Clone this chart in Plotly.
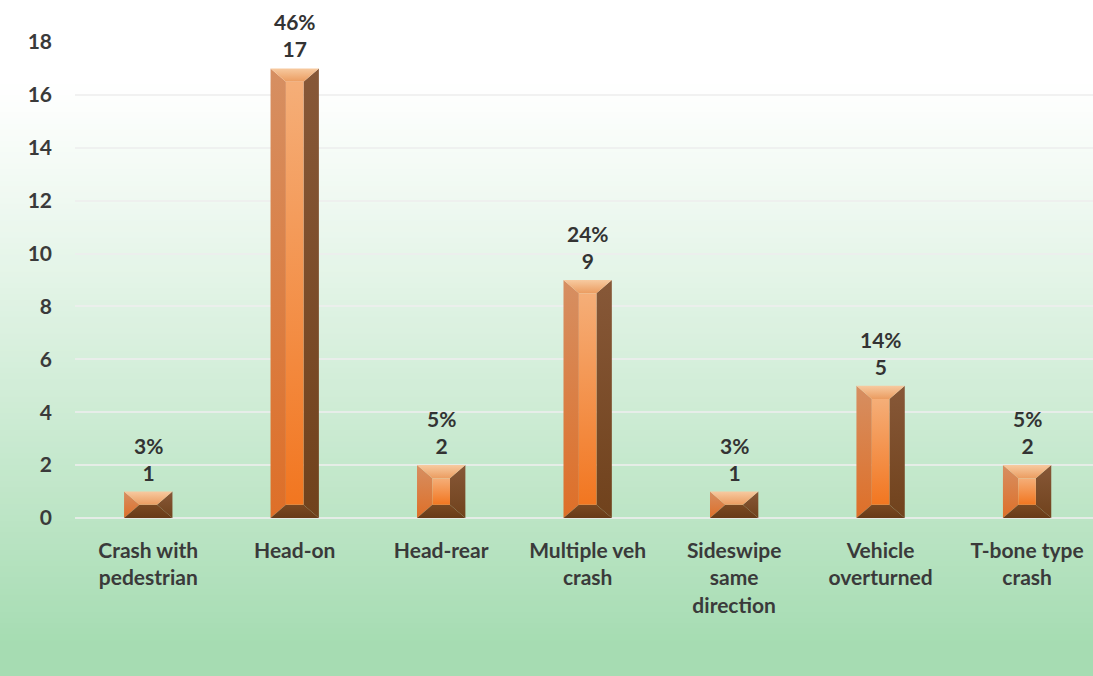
import plotly.graph_objects as go

# ---- data ----
categories = [
    "Crash with<br>pedestrian",
    "Head-on",
    "Head-rear",
    "Multiple veh<br>crash",
    "Sideswipe<br>same<br>direction",
    "Vehicle<br>overturned",
    "T-bone type<br>crash",
]
counts = [1, 17, 2, 9, 1, 5, 2]
y_ticks = [0, 2, 4, 6, 8, 10, 12, 14, 16, 18]

total = sum(counts)
pct_labels = [f"{round(c / total * 100)}%<br>{c}" for c in counts]
xpos = list(range(len(categories)))

# ---- bevel geometry (axis units) ----
HALF_W = 0.165   # half bar width
BEV_X = 0.105    # side bevel width
BEV_Y = 0.5      # top/bottom bevel height

# facet colours (bottom colour, top colour)
FACETS = {
    "left":   ("#de6f28", "#d68f62"),
    "right":  ("#70421c", "#875838"),
    "top":    ("#eb9c60", "#f7caa0"),
    "bottom": ("#683b18", "#7a4922"),
    "front":  ("#f27620", "#f5ae78"),
}

fig = go.Figure()


def facet(xs, ys, name):
    c0, c1 = FACETS[name]
    fig.add_trace(go.Scatter(
        x=xs + [xs[0]], y=ys + [ys[0]],
        mode="lines", line=dict(width=0),
        fill="toself",
        fillcolor=c0,
        fillgradient=dict(type="vertical", colorscale=[[0, c0], [1, c1]]),
        hoverinfo="skip", showlegend=False,
    ))


for xc, v in zip(xpos, counts):
    l, r = xc - HALF_W, xc + HALF_W
    il, ir = l + BEV_X, r - BEV_X
    by = min(BEV_Y, v / 2)
    ib, it = by, v - by
    # left, right, bottom, top faces then the flat front
    facet([l, il, il, l], [0, ib, it, v], "left")
    facet([r, ir, ir, r], [0, ib, it, v], "right")
    facet([l, r, ir, il], [0, 0, ib, ib], "bottom")
    facet([l, r, ir, il], [v, v, it, it], "top")
    if it > ib:
        facet([il, ir, ir, il], [ib, ib, it, it], "front")

# value labels
for xc, v, t in zip(xpos, counts, pct_labels):
    fig.add_annotation(
        x=xc, y=v, text=t, showarrow=False,
        yanchor="bottom", yshift=5,
        font=dict(family="Lato", size=21, color="#333333", weight="bold"),
    )

# background gradient: white on top, light green at the bottom
n_bands = 120
top_c = (255, 255, 255)
bot_c = (166, 220, 178)
y_lo, y_hi = -0.34, 1.09
for i in range(n_bands):
    y0 = y_lo + (y_hi - y_lo) * i / n_bands
    y1 = y_lo + (y_hi - y_lo) * (i + 1) / n_bands
    p = 1 - (i + 0.5) / n_bands      # 0 at top -> 1 at bottom
    w = min(1.0, max(0.0, (p - 0.12) / 0.83)) ** 1.1
    rgb = [round(a + (b - a) * w) for a, b in zip(top_c, bot_c)]
    fig.add_shape(
        type="rect", xref="paper", yref="paper",
        x0=-0.2, x1=1.2, y0=y0, y1=y1 + 0.002,
        fillcolor=f"rgb({rgb[0]},{rgb[1]},{rgb[2]})",
        line=dict(width=0), layer="below",
    )

fig.update_layout(
    width=1093, height=676,
    margin=dict(l=75, r=0, t=42, b=158),
    paper_bgcolor="white",
    plot_bgcolor="rgba(0,0,0,0)",
    showlegend=False,
    font=dict(family="Lato", size=21, color="#3a3a3a"),
)

fig.update_xaxes(
    range=[-0.5, 6.45],
    tickvals=xpos, ticktext=categories,
    showgrid=False, zeroline=False, showline=False,
    ticks="", ticklabelstandoff=18,
    tickfont=dict(family="Lato", size=21, color="#3a3a3a", weight="bold"),
)
fig.update_yaxes(
    range=[0, 18], tickvals=y_ticks,
    showgrid=True, gridcolor="rgba(238,238,238,0.8)", gridwidth=1.5,
    zeroline=True, zerolinecolor="rgba(238,238,238,0.8)", zerolinewidth=1.5,
    showline=False, ticks="", ticklabelstandoff=22,
    tickfont=dict(family="Lato", size=21, color="#3a3a3a", weight="bold"),
)

fig.write_html(
    "out.html",
    config={"displayModeBar": False},
    post_script="document.body.style.margin='0';",
)
